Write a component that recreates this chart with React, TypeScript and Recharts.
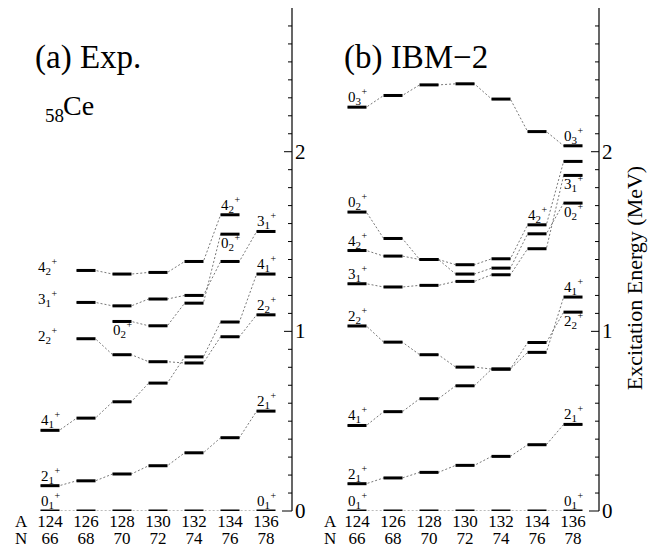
import React from 'react';
import { ComposedChart, Line, Scatter, XAxis, YAxis } from 'recharts';

const MASS_NUMBERS = [124, 126, 128, 130, 132, 134, 136];
const NEUTRON_NUMBERS = [66, 68, 70, 72, 74, 76, 78];

// (a) experimental levels, MeV (null = not observed)
const EXP_0_1 = [0, 0, 0, 0, 0, 0, 0];
const EXP_2_1 = [0.141, 0.168, 0.206, 0.252, 0.324, 0.408, 0.556];
const EXP_4_1 = [0.449, 0.517, 0.608, 0.712, 0.858, 1.052, 1.319];
const EXP_2_2 = [null, 0.959, 0.87, 0.831, 0.824, 0.97, 1.092];
const EXP_0_2 = [null, null, 1.055, 1.031, 1.157, 1.541, null];
const EXP_3_1 = [null, 1.161, 1.142, 1.18, 1.2, 1.389, 1.556];
const EXP_4_2 = [null, 1.339, 1.319, 1.328, 1.389, 1.649, null];

// (b) IBM-2 levels, MeV
const IBM_0_1 = [0, 0, 0, 0, 0, 0, 0];
const IBM_2_1 = [0.152, 0.184, 0.215, 0.254, 0.304, 0.369, 0.482];
const IBM_4_1 = [0.476, 0.553, 0.625, 0.697, 0.79, 0.883, 1.191];
const IBM_2_2 = [1.03, 0.94, 0.87, 0.801, 0.79, 0.938, 1.107];
const IBM_3_1 = [1.265, 1.247, 1.256, 1.278, 1.315, 1.46, 1.868];
const IBM_4_2 = [1.45, 1.419, 1.4, 1.371, 1.404, 1.593, 1.946];
const IBM_0_2 = [1.664, 1.517, 1.4, 1.319, 1.352, 1.543, 1.714];
const IBM_0_3 = [2.248, 2.313, 2.372, 2.378, 2.293, 2.112, 2.033];

const ENERGY_TICKS = Array.from({ length: 28 }, (_, i) => i / 10);
const COLUMNS = [0, 1, 2, 3, 4, 5, 6];

const FONT = '"Times New Roman", Times, "Liberation Serif", "DejaVu Serif", "Noto Serif", serif';
const HALF = 0.26; // half of a level bar, in column units

type Series = (number | null)[];
type Place = 'above' | 'below' | 'side';
interface LevelLabel {
  x: number;
  y: number;
  j: string;
  k: string;
  place: Place;
}

const lbl = (s: Series, col: number, j: string, k: string, place: Place, at = col): LevelLabel => ({
  x: at,
  y: s[col] as number,
  j,
  k,
  place,
});

const EXP_SERIES = [EXP_0_1, EXP_2_1, EXP_4_1, EXP_2_2, EXP_0_2, EXP_3_1, EXP_4_2];
const IBM_SERIES = [IBM_0_1, IBM_2_1, IBM_4_1, IBM_2_2, IBM_3_1, IBM_4_2, IBM_0_2, IBM_0_3];

const EXP_LABELS: LevelLabel[] = [
  lbl(EXP_0_1, 0, '0', '1', 'above'),
  lbl(EXP_0_1, 6, '0', '1', 'above'),
  lbl(EXP_2_1, 0, '2', '1', 'above'),
  lbl(EXP_2_1, 6, '2', '1', 'above'),
  lbl(EXP_4_1, 0, '4', '1', 'above'),
  lbl(EXP_4_1, 6, '4', '1', 'above'),
  lbl(EXP_2_2, 1, '2', '2', 'side', 0),
  lbl(EXP_2_2, 6, '2', '2', 'above'),
  lbl(EXP_3_1, 1, '3', '1', 'side', 0),
  lbl(EXP_3_1, 6, '3', '1', 'above'),
  lbl(EXP_4_2, 1, '4', '2', 'side', 0),
  lbl(EXP_4_2, 5, '4', '2', 'above'),
  lbl(EXP_0_2, 2, '0', '2', 'below'),
  lbl(EXP_0_2, 5, '0', '2', 'below'),
];

const IBM_LABELS: LevelLabel[] = [
  lbl(IBM_0_1, 0, '0', '1', 'above'),
  lbl(IBM_0_1, 6, '0', '1', 'above'),
  lbl(IBM_2_1, 0, '2', '1', 'above'),
  lbl(IBM_2_1, 6, '2', '1', 'above'),
  lbl(IBM_4_1, 0, '4', '1', 'above'),
  lbl(IBM_4_1, 6, '4', '1', 'above'),
  lbl(IBM_2_2, 0, '2', '2', 'above'),
  lbl(IBM_2_2, 6, '2', '2', 'below'),
  lbl(IBM_3_1, 0, '3', '1', 'above'),
  lbl(IBM_3_1, 6, '3', '1', 'below'),
  lbl(IBM_4_2, 0, '4', '2', 'above'),
  lbl(IBM_4_2, 5, '4', '2', 'above'),
  lbl(IBM_0_2, 0, '0', '2', 'above'),
  lbl(IBM_0_2, 6, '0', '2', 'below'),
  lbl(IBM_0_3, 0, '0', '3', 'above'),
  lbl(IBM_0_3, 6, '0', '3', 'above'),
];

// bar ends for the dotted connectors
function connectors(s: Series) {
  const pts: { x: number; y: number }[] = [];
  s.forEach((v, i) => {
    if (v == null) return;
    pts.push({ x: i - HALF, y: v }, { x: i + HALF, y: v });
  });
  return pts;
}

function levels(all: Series[]) {
  const pts: { x: number; y: number }[] = [];
  all.forEach((s) =>
    s.forEach((v, i) => {
      if (v != null) pts.push({ x: i, y: v });
    }),
  );
  return pts;
}

function LevelBar(props: any) {
  const { cx, cy } = props;
  return <rect x={cx - 9.5} y={cy - 1.5} width={19} height={3} fill="#000" />;
}

function StateLabel(props: any) {
  const { cx, cy, payload } = props;
  const p: LevelLabel = payload;
  const x = p.place === 'side' ? cx - 12 : cx - 9;
  const y = p.place === 'above' ? cy - 5 : p.place === 'below' ? cy + 14 : cy + 2;
  return (
    <text x={x} y={y} style={{ fontFamily: FONT, fontSize: 15 }} fill="#000">
      <tspan>{p.j}</tspan>
      <tspan style={{ fontSize: 11 }} dy={3}>
        {p.k}
      </tspan>
      <tspan style={{ fontSize: 10 }} dy={-10} dx={0.5}>
        +
      </tspan>
    </text>
  );
}

function EnergyTick(props: any) {
  const { x, y, payload } = props;
  const v = payload.value;
  const major = Math.abs(v - Math.round(v)) < 1e-6;
  return (
    <g>
      <line x1={x - (major ? (v === 0 ? 10 : 8) : 4)} x2={x} y1={y} y2={y} stroke="#000" strokeWidth={1} />
      {major && (
        <text x={x + 3} y={y + 7} style={{ fontFamily: FONT, fontSize: 21 }} fill="#000">
          {Math.round(v)}
        </text>
      )}
    </g>
  );
}

function IsotopeTick(props: any) {
  const { x, y, payload } = props;
  const i = payload.value;
  return (
    <g style={{ fontFamily: FONT, fontSize: 17 }} fill="#000">
      <text x={x} y={y + 16} textAnchor="middle">
        {MASS_NUMBERS[i]}
      </text>
      <text x={x} y={y + 33} textAnchor="middle">
        {NEUTRON_NUMBERS[i]}
      </text>
    </g>
  );
}

function LevelPanel({ series, labels }: { series: Series[]; labels: LevelLabel[] }) {
  return (
    <ComposedChart width={331} height={548} margin={{ top: 8, right: 9, bottom: 1, left: 14 }}>
      <XAxis
        type="number"
        dataKey="x"
        domain={[-1, 6.722]}
        ticks={COLUMNS}
        allowDataOverflow
        axisLine={false}
        tickLine={false}
        tickSize={0}
        tickMargin={0}
        height={36}
        interval={0}
        tick={<IsotopeTick />}
      />
      <YAxis
        type="number"
        dataKey="y"
        orientation="right"
        domain={[0, 2.8]}
        ticks={ENERGY_TICKS}
        allowDataOverflow
        width={30}
        axisLine={{ stroke: '#000', strokeWidth: 1.2 }}
        tickLine={false}
        tickSize={0}
        tickMargin={0}
        interval={0}
        tick={<EnergyTick />}
      />
      {series.map((s, i) => (
        <Line
          key={i}
          data={connectors(s)}
          dataKey="y"
          type="linear"
          stroke="#555"
          strokeWidth={0.8}
          strokeDasharray="2 2"
          dot={false}
          activeDot={false}
          isAnimationActive={false}
        />
      ))}
      <Scatter data={levels(series)} dataKey="y" shape={<LevelBar />} isAnimationActive={false} />
      <Scatter data={labels} dataKey="y" shape={<StateLabel />} isAnimationActive={false} />
    </ComposedChart>
  );
}

export default function App() {
  return (
    <div style={{ position: 'absolute', left: 0, top: 0, width: 662, height: 548, background: '#fff' }}>
      <div style={{ position: 'absolute', left: 0, top: 0 }}>
        <LevelPanel series={EXP_SERIES} labels={EXP_LABELS} />
      </div>
      <div style={{ position: 'absolute', left: 307, top: 0 }}>
        <LevelPanel series={IBM_SERIES} labels={IBM_LABELS} />
      </div>
      <svg
        width={662}
        height={548}
        style={{ position: 'absolute', left: 0, top: 0, pointerEvents: 'none', fontFamily: FONT }}
        fill="#000"
      >
        <text x={35} y={68} style={{ fontSize: 33 }}>
          (a) Exp.
        </text>
        <text x={45} y={122} style={{ fontSize: 19 }}>
          58
        </text>
        <text x={63} y={115} style={{ fontSize: 28 }}>
          Ce
        </text>
        <text x={344} y={68} style={{ fontSize: 33 }}>
          (b) IBM−2
        </text>
        <text x={15} y={527} style={{ fontSize: 17 }}>
          A
        </text>
        <text x={15} y={544} style={{ fontSize: 17 }}>
          N
        </text>
        <text x={324} y={527} style={{ fontSize: 17 }}>
          A
        </text>
        <text x={324} y={544} style={{ fontSize: 17 }}>
          N
        </text>
        <text
          x={634}
          y={278}
          style={{ fontSize: 22 }}
          textAnchor="middle"
          dominantBaseline="central"
          transform="rotate(-90 634 278)"
        >
          Excitation Energy (MeV)
        </text>
      </svg>
    </div>
  );
}
